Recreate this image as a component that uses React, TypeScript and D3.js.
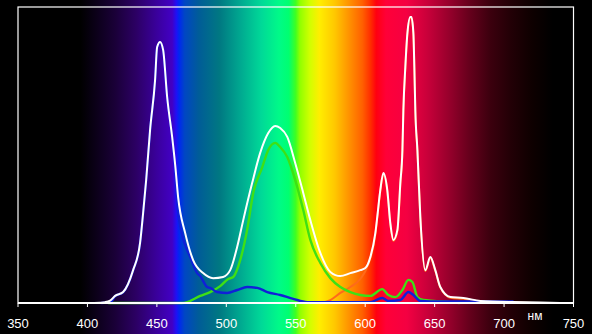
import React from "react";
import * as d3 from "d3";

const W = 592;
const H = 334;

const xTicks = [350, 400, 450, 500, 550, 600, 650, 700, 750];
const unitLabel = "нм";

// [nm, relative intensity %]
const whiteSeries: [number, number][] = [
  [405, 0], [412.7, 0.3], [416.3, 0.8], [419.9, 2.4], [425.7, 3.7], [432.9, 11.1], [437.9, 20.3],
  [440.1, 30.4], [442.3, 41.6], [445.1, 58.4], [448.7, 75.3], [450.2, 86.5], [452.3, 88.2],
  [454.5, 85.5], [457.4, 69.6], [461.0, 56.1], [463.2, 46.6], [465.3, 35.8], [470.4, 23.6],
  [476.1, 14.5], [483.3, 10.1], [490.5, 8.4], [497.7, 8.8], [502.8, 11.1], [507.8, 18.9],
  [512.2, 28.0], [518.6, 40.5], [524.4, 50.7], [530.2, 57.4], [535.2, 59.8], [538.8, 59.1],
  [543.9, 56.1], [549.6, 47.3], [555.4, 37.2], [560.5, 28.0], [567.7, 16.9], [574.9, 10.5],
  [582.1, 9.1], [589.3, 10.1], [596.5, 11.1], [600.1, 11.8], [603.7, 15.5], [607.3, 23.6],
  [608.7, 29.1], [610.9, 38.2], [613.1, 43.9], [615.9, 38.2], [618.1, 27.0], [620.3, 21.3],
  [623.2, 24.7], [625.3, 40.5], [626.8, 51.7], [627.5, 65.2], [628.9, 79.7], [630.4, 91.2],
  [632.5, 96.6], [633.3, 96.6], [634.7, 91.2], [635.4, 79.7], [636.1, 65.2], [637.6, 51.7],
  [639.7, 29.1], [643.3, 11.1], [646.9, 15.5], [650.5, 11.1], [654.1, 5.4], [661.4, 2.0],
  [670.7, 1.7], [683.0, 0.7], [706.8, 0.3], [726.2, 0.2], [740.6, 0],
];

const greenSeries: [number, number][] = [
  [415, 0], [468, 0], [471.8, 0.3], [481.2, 2.4], [488.4, 3.7], [495.6, 5.7], [501.4, 8.1],
  [505.0, 8.8], [510.0, 14.5], [515.0, 24.7], [519.4, 37.2], [525.9, 45.9], [530.2, 51.7],
  [535.2, 54.1], [538.8, 52.7], [543.9, 49.3], [549.6, 41.6], [555.4, 31.4], [560.5, 21.3],
  [567.7, 13.5], [574.9, 8.4], [582.1, 5.4], [589.3, 3.7], [596.5, 2.7], [603.7, 2.4],
  [612.3, 4.7], [616.7, 2.7], [621.7, 2.0], [626.8, 4.4], [631.1, 7.8], [634.0, 7.1],
  [637.6, 2.0], [641.9, 1.0], [649.1, 0.7], [661, 0.3], [668, 0],
];

const blueSeries: [number, number][] = [
  [410, 0], [416.3, 0.2], [419.9, 2.3], [425.7, 3.6], [432.9, 11.0], [437.9, 20.2], [440.1, 30.3],
  [442.3, 41.5], [445.1, 58.3], [448.7, 75.2], [450.2, 86.4], [452.3, 88.0], [454.5, 85.4],
  [457.4, 69.5], [461.0, 56.0], [463.2, 45.0], [465.3, 31.0], [468.2, 23.0], [471.8, 17.9],
  [474.0, 15.5], [479.0, 10.1], [481.2, 9.1], [486.2, 5.4], [488.4, 5.1], [493.4, 3.7],
  [500.6, 3.4], [507.8, 4.4], [515.0, 5.4], [522.3, 5.1], [529.5, 3.7], [538.8, 2.7],
  [548.2, 1.4], [558.3, 0.3], [567.7, 0.3], [603.7, 0.3], [612.3, 1.7], [616.7, 0.7],
  [625.3, 1.0], [631.1, 3.7], [634.7, 2.7], [639.7, 0.7], [654, 0.5], [706.8, 0.5],
];

const redSeries: [number, number][] = [
  [567.7, 0], [574.9, 1.0], [582.1, 3.4], [589.3, 5.4], [596.5, 8.1], [600.1, 10.8],
  [603.7, 15.0], [607.3, 23.0], [608.7, 28.8], [610.9, 37.9], [613.1, 43.5], [615.9, 37.8],
  [618.1, 26.6], [620.3, 21.0], [623.2, 24.3], [625.3, 40.0], [626.8, 51.3], [627.5, 64.8],
  [628.9, 79.3], [630.4, 90.8], [632.5, 96.2], [633.3, 96.2], [634.7, 90.8], [635.4, 79.3],
  [636.1, 64.8], [637.6, 51.3], [639.7, 28.7], [643.3, 10.8], [646.9, 15.2], [650.5, 10.8],
  [654.1, 5.2], [661.4, 1.8], [670.7, 1.4], [683.0, 0.5], [700, 0.2], [720, 0],
];

// spectrum background stops: [nm, colour]
const spectrumStops: [number, string][] = [
  [350, "#000000"], [395, "#000000"], [405, "#0a0016"], [420, "#1a0038"], [435, "#2c0064"],
  [450, "#3a009c"], [461, "#4200c4"], [464, "#2010f4"], [466, "#0028f0"], [470, "#0046c4"],
  [480, "#005c98"], [495, "#007882"], [510, "#00a890"], [525, "#00d898"], [538, "#00fa88"],
  [545, "#00ff70"], [550, "#40ff20"], [553, "#90ff00"], [560, "#d0ff00"], [567, "#ffee00"],
  [578, "#ffc800"], [588, "#ff9400"], [598, "#ff6000"], [604, "#ff2c00"], [608, "#ff0010"],
  [615, "#ff0038"], [630, "#f40042"], [645, "#c8003a"], [660, "#98002c"], [675, "#66001c"],
  [690, "#3c000e"], [705, "#220006"], [720, "#0e0000"], [735, "#000000"], [750, "#000000"],
];

export default function App() {
  const left = 18;
  const right = 573.5;
  const top = 7;
  const base = 303;

  const x = d3.scaleLinear().domain([350, 750]).range([left, right]);
  const y = d3.scaleLinear().domain([0, 100]).range([base, top]);

  const line = d3
    .line<[number, number]>()
    .x((d) => x(d[0]))
    .y((d) => y(d[1]))
    .curve(d3.curveMonotoneX);

  const x0 = x(350);
  const x1 = x(750);

  return (
    <svg
      width={W}
      height={H}
      style={{ position: "absolute", left: 0, top: 0, display: "block" }}
    >
      <defs>
        <linearGradient id="spec" gradientUnits="userSpaceOnUse" x1={x0} x2={x1} y1={0} y2={0}>
          {spectrumStops.map(([nm, c], i) => (
            <stop key={i} offset={(nm - 350) / 400} stopColor={c} />
          ))}
        </linearGradient>
      </defs>
      <rect x={0} y={0} width={W} height={H} fill="#000" />
      <rect x={x0} y={0} width={x1 - x0} height={H} fill="url(#spec)" />

      {/* frame */}
      <rect x={left} y={top} width={right - left} height={base - top} fill="none" stroke="#fff" strokeWidth={1.2} />

      {/* curves */}
      <path d={line(redSeries) || ""} fill="none" stroke="#ff6a1a" strokeWidth={2} strokeLinejoin="round" />
      <path d={line(greenSeries) || ""} fill="none" stroke="#3ee014" strokeWidth={2.4} strokeLinejoin="round" />
      <path d={line(blueSeries) || ""} fill="none" stroke="#1020d8" strokeWidth={2.4} strokeLinejoin="round" />
      <path d={line(whiteSeries) || ""} fill="none" stroke="#ffffff" strokeWidth={2} strokeLinejoin="round" />

      {/* axis */}
      <line x1={left} x2={right} y1={base} y2={base} stroke="#fff" strokeWidth={2.2} />
      {xTicks.map((t) => (
        <g key={t}>
          <line x1={x(t)} x2={x(t)} y1={base} y2={base + 4} stroke="#fff" strokeWidth={1} />
          <text
            x={x(t)}
            y={328}
            fill="#fff"
            fontSize={13}
            textAnchor="middle"
            fontFamily="'Liberation Sans', Arial, sans-serif"
          >
            {t}
          </text>
        </g>
      ))}
      <text x={535} y={319.5} fill="#fff" fontSize={12} textAnchor="middle" fontFamily="'Liberation Sans', Arial, sans-serif">
        {unitLabel}
      </text>
    </svg>
  );
}
